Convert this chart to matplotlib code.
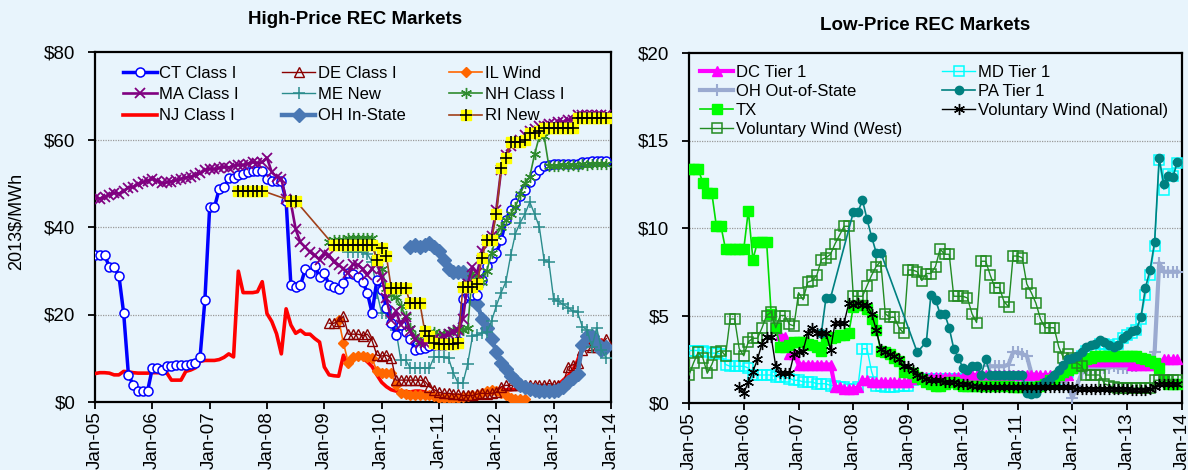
import numpy as np
import matplotlib
matplotlib.use("Agg")
import matplotlib.pyplot as plt
from matplotlib.legend_handler import HandlerTuple

plt.rcParams['font.family'] = ['Liberation Sans', 'DejaVu Sans']

# ---------------- data (monthly, month 0 = Jan-05) ----------------
tick_labels = ['Jan-05', 'Jan-06', 'Jan-07', 'Jan-08', 'Jan-09', 'Jan-10',
               'Jan-11', 'Jan-12', 'Jan-13', 'Jan-14']

# High-price markets
ct_class1_start = 0
ct_class1 = [33.6, 33.6, 33.6, 30.9, 30.9, 28.9, 20.3, 6.2, 3.9, 2.5, 2.5, 2.5,
             7.7, 7.7, 7.4, 8.3, 8.3, 8.5, 8.5, 8.5, 8.7, 9.0, 10.4, 23.3,
             44.5, 44.5, 48.7, 49.1, 51.1, 51.1, 52.0, 52.2, 52.5, 52.7, 52.7, 52.7,
             51.0, 50.5, 50.5, 50.5, 46.0, 26.7, 26.3, 26.7, 30.3, 29.4, 31.0, 28.6,
             29.5, 26.7, 26.2, 25.9, 27.1, 29.5, 29.2, 28.5, 27.5, 25.0, 20.3, 27.9,
             25.7, 21.5, 18.0, 15.4, 17.7, 16.0, 14.3, 12.0, 12.2, 12.4, 12.8, 13.0,
             13.0, 13.0, 13.2, 13.5, 14.0, 23.5, 24.5, 24.5, 24.5, 28.0, 31.0, 33.0,
             34.0, 37.0, 41.6, 44.0, 45.5, 47.0, 48.5, 50.3, 51.9, 53.0, 54.0, 54.2,
             54.3, 54.3, 54.5, 54.5, 54.5, 54.5, 54.8, 54.8, 55.0, 55.0, 55.2, 55.2]

ma_class1_start = 0
ma_class1 = [46.6, 46.5, 46.9, 47.3, 47.8, 47.6, 48.3, 49.0, 49.2, 49.8, 50.2, 50.6,
             51.0, 50.6, 50.0, 50.2, 50.4, 50.7, 51.0, 51.3, 51.5, 51.8, 52.3, 53.0,
             53.3, 53.2, 53.5, 53.7, 53.6, 54.0, 54.2, 54.1, 54.5, 54.8, 54.6, 54.8,
             55.8, 52.5, 51.5, 51.0, 46.3, 45.5, 39.5, 36.5, 35.4, 34.3, 33.5, 32.5,
             34.0, 33.5, 32.0, 31.3, 30.5, 29.5, 31.5, 31.3, 30.5, 29.0, 30.5, 31.7,
             28.5, 23.7, 18.8, 20.7, 17.6, 19.5, 16.2, 14.3, 13.5, 13.5, 14.0, 14.5,
             14.5, 15.0, 15.5, 16.0, 16.5, 19.0, 27.0, 30.9, 29.5, 34.5, 37.0, 38.0,
             44.0, 53.0, 56.5, 58.5, 59.5, 60.0, 61.0, 62.0, 62.5, 63.0, 63.0, 63.5,
             63.5, 64.0, 64.0, 64.5, 64.5, 65.5, 65.5, 65.5, 65.5, 65.5, 65.5, 65.5]

nj_class1_start = 0
nj_class1 = [6.5, 6.7, 6.7, 6.6, 6.2, 6.2, 7.0, 6.9, 6.7, 6.6, 6.6, 6.6,
             6.7, 6.7, 6.7, 6.7, 5.0, 5.0, 5.0, 7.0, 7.3, 7.8, 9.3, 9.5,
             9.5, 9.5, 9.7, 10.2, 11.0, 10.3, 29.9, 25.0, 25.0, 25.0, 25.2, 27.5,
             20.2, 18.4, 15.6, 11.0, 21.3, 17.6, 15.7, 16.4, 15.5, 15.5, 14.5, 13.7,
             8.0, 6.2, 6.0, 5.9, 10.7, 8.1, 10.4, 10.7, 10.1, 9.2, 8.1, 6.2,
             4.5, 3.5, 2.8, 2.5, 2.4, 2.4, 2.3, 2.5, 2.5, 2.3, 2.0, 1.7,
             1.4, 1.3, 1.2, 1.2, 1.3, 1.4, 1.5, 1.6, 1.7, 2.0, 2.3, 2.7,
             2.9, 3.0, 2.8, 2.8, 2.9, 3.0, 3.0, 3.1, 3.2, 3.2, 3.3, 3.3,
             3.5, 4.0, 5.0, 6.0, 7.3, 9.5, 12.6, 13.0, 13.5, 13.2, 14.2, 12.5]

de_class1_start = 49
de_class1 = [18.0, 18.0, 18.5, 19.6, 15.5, 15.5, 15.5, 15.2, 15.5, 14.0, 10.7,
             10.5, 10.7, 10.0, 5.0, 5.0, 5.0, 5.0, 5.0, 5.0, 4.8, 3.5, 2.8,
             2.2, 2.0, 2.0, 1.8, 1.8, 1.5, 1.5, 1.5, 1.8, 2.0, 1.9, 2.0,
             2.2, 3.5, 3.8, 3.8, 4.0, 4.0, 3.8, 4.0, 4.0, 4.0, 4.0, 4.2,
             4.0, 4.0, 4.2, 8.0, 8.5, 9.0, 12.0, 13.0, 12.5, 12.5, 13.0, 14.5]

il_wind_start = 51
il_wind = [18.8, 13.5, 9.0, 10.3, 10.5, 10.5, 10.2, 10.0, 7.0, 6.6,
           6.6, 6.6, 3.8, 2.0, 1.8, 1.6, 1.6, 1.5, 1.6, 1.6,
           1.3, 1.0, 1.0, 0.9, 0.9, 1.0, 1.1, 1.3, 1.5, 1.5,
           2.0, 2.5, 2.8, 2.6, 2.0, 1.5, 1.0, 0.8, 0.7, 0.6]

me_new_start = 53
me_new = [34.3, 34.3, 34.3, 34.3, 33.8, 32.0, 25.0,
          20.3, 20.3, 20.0, 16.4, 9.6, 9.6, 7.8, 7.8, 7.8, 7.8, 7.8, 10.3,
          10.3, 10.3, 10.0, 6.6, 4.3, 4.3, 8.7, 15.0, 15.3, 15.8, 16.0, 18.5,
          22.0, 25.0, 27.5, 33.5, 38.5, 41.0, 43.0, 45.7, 43.0, 40.0, 32.4, 32.0,
          23.5, 23.0, 22.3, 21.6, 20.8, 20.5, 17.2, 16.5, 12.5, 17.0, 12.0, 10.0]

nh_class1_start = 49
nh_class1 = [36.5, 37.0, 37.0, 37.0, 37.5, 37.5, 37.5, 37.5, 37.5, 37.5, 32.0,
             30.5, 26.0, 24.5, 24.0, 22.0, 19.6, 17.0, 15.0, 14.0, 15.5, 16.0, 16.0,
             15.5, 15.5, 16.0, 16.5, 16.5, 16.5, 17.0, 29.4, 28.5, 27.5, 30.0, 34.0,
             38.0, 40.0, 41.6, 43.0, 44.6, 47.5, 50.0, 51.5, 56.6, 60.7, 60.7, 53.9,
             54.0, 54.0, 54.2, 54.0, 54.2, 54.0, 54.3, 54.2, 54.3, 54.5, 54.3, 54.3]

oh_instate_start = 66
oh_instate = [35.5, 35.8, 35.5, 36.0, 36.4, 35.5,
              34.5, 32.5, 30.5, 29.7, 29.7, 29.7, 28.5, 23.5, 22.5, 19.0, 17.0, 14.5,
              11.5, 9.0, 7.5, 6.0, 5.0, 4.0, 3.5, 3.0, 2.7, 2.5, 2.5, 2.5,
              2.5, 2.8, 3.5, 4.5, 5.5, 6.5, 13.0, 15.0, 15.0, 13.5, 12.0, 12.5]

ri_new_start = 30
ri_new = [48.3, 48.3, 48.3, 48.3, 48.3, 48.3,
          None, None, None, None, None,
          46.0, 46.0,
          None, None, None, None, None, None, None,
          35.8, 35.8, 35.8, 35.8, 35.8, 35.8, 35.8, 35.8, 35.8,
          32.5, 35.2, 33.3, 26.0, 26.0, 26.0, 26.0, 22.6, 22.6, 22.6, 16.3, 15.0, 13.5,
          13.2, 13.2, 13.2, 13.2, 13.5, 26.3, 26.3, 26.3, 27.0, 33.0, 37.0, 37.0,
          43.0, 53.5, 55.7, 59.5, 59.5, 59.5, 60.0, 61.5, 61.5, 62.0, 62.6, 62.6,
          62.6, 62.6, 62.6, 62.6, 62.6, 65.0, 65.0, 65.0, 65.0, 65.0, 65.0, 65.0]

# Low-price markets
tx_start = 0
tx = [13.4, 13.4, 13.4, 12.6, 12.0, 12.0, 10.1, 10.1, 8.8, 8.8, 8.8, 8.8,
      8.8, 11.0, 8.2, 9.2, 9.2, 9.2, 5.1, 4.3, 3.2, 3.2, 3.3, 3.5,
      3.5, 3.5, 3.4, 3.3, 3.2, 3.0, 3.6, 3.7, 3.8, 3.9, 3.9, 4.0,
      5.5, 5.6, 5.6, 5.4, 4.8, 4.2, 3.0, 2.9, 2.8, 2.6, 2.4, 1.8,
      1.8, 1.7, 1.5, 1.4, 1.2, 1.1, 1.0, 1.0, 1.1, 1.2, 1.2, 1.1,
      1.0, 1.0, 1.0, 1.0, 1.0, 1.0, 1.0, 1.0, 1.0, 1.0, 1.0, 0.9,
      0.9, 0.9, 0.9, 0.9, 0.9, 1.0, 1.1, 1.3, 1.4, 1.6, 1.8, 1.9,
      2.0, 2.1, 2.3, 2.5, 2.6, 2.7, 2.7, 2.7, 2.7, 2.7, 2.7, 2.7,
      2.7, 2.7, 2.7, 2.6, 2.5, 2.4, 2.3, 2.0, 1.3, 1.1, 1.1, 1.1]

dc_tier1_start = 20
dc_tier1 = [3.9, 3.8, 2.8, 2.8,
            2.2, 2.2, 2.2, 2.2, 2.2, 2.2, 2.2, 2.2,
            0.9, 0.9, 0.8, 0.8, 0.8, 0.9,
            1.3, 1.3,
            1.2, 1.2, 1.2, 1.2, 1.2, 1.2, 1.2, 1.2, 1.2,
            1.4, 1.5, 1.5, 1.5, 1.5, 1.5, 1.5, 1.5, 1.5, 1.5, 1.5, 1.5,
            1.6, 1.6, 1.6, 1.6, 1.6, 1.6, 1.6, 1.6, 1.6, 1.6, 1.6, 1.6,
            1.6, 1.6, 1.6, 1.6, 1.6, 1.6, 1.6, 1.6, 1.6, 1.6, 1.6,
            2.0,
            2.4, 2.4, 2.4, 2.4, 2.4, 2.4, 2.4, 2.4, 2.4, 2.4, 2.4, 2.4,
            2.2, 2.2, 2.2, 2.2, 2.2, 2.2, 2.2,
            2.5, 2.5, 2.5, 2.5]

md_tier1_start = 0
md_tier1 = [3.0, 3.0, 3.0, 3.0, 2.9, 2.85, 2.85, 2.8, 2.2, 2.1, 2.1, 2.1,
            2.1, 2.0, 1.6, 1.6, 1.6, 1.6, 1.6, 1.5, 1.5, 1.5, 1.4, 1.3,
            1.3, 1.2, 1.2, 1.2, 1.1, 1.1, 1.1, 1.0, 1.0, 0.9, 0.9, 0.8,
            0.8, 0.9, 3.1, 3.1, 1.8, 1.0, 1.0, 0.9, 0.9, 0.9, 1.0, 1.0,
            1.0, 1.3, 1.4, 1.4, 1.4, 1.4, 1.4, 1.4, 1.4, 1.4, 1.4, 1.4,
            1.4, 1.4, 1.4, 1.4, 1.4, 1.4, 1.4, 1.4, 1.4, 1.4, 1.4, 1.4,
            1.4, 1.3, 1.2, 1.2, 1.2, 1.2, 1.2, 1.2, 1.2, 1.3, 1.5, 1.8,
            2.2, 2.4, 2.7, 3.0, 3.1, 3.2, 3.4, 3.4, 3.3, 3.2, 3.4, 3.7,
            3.9, 4.0, 4.2, 4.8, 6.2, 7.3, 9.0, 13.9, 12.2, 13.1, 13.0, 13.7]

pa_tier1_start = 29
pa_tier1 = [4.0,
            6.0, 6.0,
            None, None, None, None,
            10.9, 10.9, 11.6, 10.5, 9.5, 8.6, 8.6,
            None, None, None, None, None, None, None,
            2.9,
            None,
            3.5, 6.2, 5.9, 5.1, 5.1, 4.3, 3.1, 2.6, 2.0, 1.9, 2.1, 2.1,
            1.6, 2.5, 1.6, 1.6, 1.6, 1.6, 1.6, 1.6,
            1.6, 1.6, 0.6, 0.5, 0.6, 1.0, 1.2, 1.4, 1.6, 1.9, 2.2, 2.5,
            2.6, 2.7, 2.9, 3.2, 3.3, 3.4, 3.6, 3.5, 3.3, 3.2, 3.3, 3.7,
            3.9, 4.1, 4.2, 4.9, 6.6, 7.6, 9.2, 14.0, 12.5, 13.0, 12.9, 13.8]

oh_oos_start = 66
oh_oos = [2.1, 2.1, 2.1, 2.1, 2.2, 2.9,
          2.9, 2.8, 2.7, 1.7, 1.5, 1.4, 1.4, 1.3, 1.3, 1.3, 1.2, 1.0,
          0.3, 1.0, 1.7, 1.9, 2.0, 2.0, 2.0, 2.0, 2.0, 2.1, 2.0, 2.0,
          2.0, 2.1, 2.1, 2.2, 2.2, 2.3, 2.9, 8.0, 7.5, 7.5, 7.5, 7.5]

vw_national_start = 11
vw_national = [0.93, 0.57, 1.2, 1.8, 2.5, 3.4, 3.8, 3.8, 2.1, 1.7, 1.7, 1.7, 2.8,
               2.9, 3.0, 4.0, 4.3, 4.0, 4.0, 4.0, 3.05, 4.57, 4.6, 4.6, 5.7,
               5.6, 5.7, 5.6, 5.6, 5.1, 4.2, 3.1, 2.9, 2.8, 2.7, 2.5, 2.1,
               2.1, 1.9, 1.6, 1.5, 1.4, 1.3, 1.3, 1.3, 1.2, 1.2, 1.2, 1.1,
               1.1, 1.1, 1.0, 1.0, 0.9, 0.9, 0.9, 0.9, 0.9, 0.9, 0.9, 0.9,
               0.9, 0.9, 0.9, 0.9, 0.9, 0.9, 0.9, 0.9, 0.9, 0.9, 0.9, 0.9,
               0.9, 0.8, 0.8, 0.8, 0.8, 0.8, 0.8, 0.8, 0.8, 0.8, 0.8, 0.8,
               0.8, 0.75, 0.75, 0.75, 0.75, 0.8, 0.9, 1.1, 1.1, 1.1, 1.1, 1.1]

vw_west_start = 0
vw_west = [1.6, 2.3, 2.9, 2.6, 1.7, 2.2, 2.9, 3.0, 2.7, 4.8, 4.8, 3.1,
           2.7, 3.5, 3.7, 3.7, 4.3, 5.0, 5.2, 4.3, 5.0, 5.0, 4.5, 4.4,
           6.3, 5.9, 6.9, 7.0, 7.3, 8.2, 8.3, 8.5, 9.1, 9.6, 10.1, 10.1,
           6.1, 6.1, 6.1, 6.7, 7.3, 7.8, 8.1, 5.1, 4.9, 4.9, 4.3, 4.0,
           7.6, 7.6, 7.5, 7.0, 7.4, 7.4, 7.8, 8.8, 8.5, 8.5, 6.1, 6.1,
           6.1, 6.0, 5.1, 4.6, 8.1, 8.1, 7.3, 6.6, 6.6, 5.8, 5.5, 8.4,
           8.4, 8.3, 6.8, 6.3, 5.7, 4.8, 4.3, 4.3, 4.3, 3.2, 2.6, 2.8,
           2.6, 2.3, 2.1, 1.6, 1.6, 1.6, 1.6, 1.1, 1.0, 0.9, 0.85, 0.85,
           0.85, 0.85, 0.85, 0.85, 0.85, 0.85, 1.3, 1.3, 1.3, 1.3, 1.3, 1.3]


def xy(start, vals):
    x = np.arange(start, start + len(vals))
    y = np.array([np.nan if v is None else v for v in vals], dtype=float)
    m = ~np.isnan(y)
    return x[m], y[m]


# ---------------- figure ----------------
W, H = 1188, 470
bg = '#E8F4FC'
fig = plt.figure(figsize=(W / 100, H / 100), dpi=100)
fig.patch.set_facecolor(bg)

axL = fig.add_axes([95 / W, 1 - 402 / H, (611 - 95) / W, 350 / H])
axR = fig.add_axes([689 / W, 1 - 403 / H, (1182 - 689) / W, 350 / H])


def style(ax, ymax, ystep):
    ax.set_facecolor(bg)
    ax.set_xlim(0, 108)
    ax.set_ylim(0, ymax)
    ax.set_xticks(np.arange(0, 109, 12))
    ax.set_xticklabels(tick_labels, rotation=90, fontsize=13.5)
    yt = np.arange(0, ymax + 1, ystep)
    ax.set_yticks(yt)
    ax.set_yticklabels(['\\$%d' % v for v in yt], fontsize=13.5)
    for v in yt[1:-1]:
        ax.axhline(v, color='#9a9a9a', lw=0.9, ls=(0, (1, 1)), zorder=1)
    for s in ax.spines.values():
        s.set_linewidth(1.6)
        s.set_color('black')
    ax.tick_params(axis='y', direction='out', length=5, width=1.3, pad=9)
    ax.tick_params(axis='x', direction='out', length=5, width=1.3, pad=2)


style(axL, 80, 20)
style(axR, 20, 5)

# ---------------- left panel ----------------
x, y = xy(nj_class1_start, nj_class1)
h_nj, = axL.plot(x, y, color='#FF0000', lw=2.6, zorder=3)
x, y = xy(il_wind_start, il_wind)
h_il, = axL.plot(x, y, color='#FF6600', lw=1.2, marker='D', ms=5, mfc='#FF6600',
                 mec='#FF6600', zorder=4)
x, y = xy(de_class1_start, de_class1)
h_de, = axL.plot(x, y, color='#8B0000', lw=1.0, marker='^', ms=7, mfc='none',
                 mec='#8B0000', mew=1.0, zorder=4)
x, y = xy(oh_instate_start, oh_instate)
h_oh, = axL.plot(x, y, color='#4A78B4', lw=3.2, marker='D', ms=7, mfc='#4A78B4',
                 mec='#4A78B4', zorder=5)
x, y = xy(me_new_start, me_new)
h_me, = axL.plot(x, y, color='#2A8C8C', lw=1.0, marker='+', ms=9, mew=1.1, zorder=6)
x, y = xy(ct_class1_start, ct_class1)
h_ct, = axL.plot(x, y, color='#0000FF', lw=2.5, marker='o', ms=6.5, mfc='white',
                 mec='#0000FF', mew=1.1, zorder=7)
x, y = xy(nh_class1_start, nh_class1)
h_nh, = axL.plot(x, y, color='#2E8B2E', lw=1.2, marker=(6, 2, 0), ms=8, mew=1.0,
                 zorder=8)
x, y = xy(ma_class1_start, ma_class1)
h_ma, = axL.plot(x, y, color='#800080', lw=1.9, marker='x', ms=6.5, mew=1.3, zorder=9)
x, y = xy(ri_new_start, ri_new)
h_ri, = axL.plot(x, y, color='#A0401A', lw=1.2, marker='s', ms=7, mfc='#FFFF00',
                 mec='#FFFF00', zorder=10)
h_rip, = axL.plot(x, y, ls='none', marker='+', ms=8, mew=1.2, color='black', zorder=11)

axL.legend([h_ct, h_ma, h_nj, h_de, h_me, h_oh, h_il, h_nh, (h_ri, h_rip)],
           ['CT Class I', 'MA Class I', 'NJ Class I', 'DE Class I', 'ME New',
            'OH In-State', 'IL Wind', 'NH Class I', 'RI New'],
           ncol=3, loc='upper left', bbox_to_anchor=(0.045, 0.974), frameon=False,
           fontsize=12, handlelength=2.0, handletextpad=0.15, columnspacing=2.6,
           labelspacing=0.37, borderaxespad=0, borderpad=0.3,
           handler_map={tuple: HandlerTuple(ndivide=1)})

# ---------------- right panel ----------------
x, y = xy(md_tier1_start, md_tier1)
h_md, = axR.plot(x, y, color='#00FFFF', lw=1.0, marker='s', ms=6.5, mfc='none',
                 mec='#00FFFF', mew=1.1, zorder=3)
x, y = xy(oh_oos_start, oh_oos)
h_oos, = axR.plot(x, y, color='#9AAAD0', lw=3.0, marker='+', ms=8, mew=1.5, zorder=4)
x, y = xy(dc_tier1_start, dc_tier1)
h_dc, = axR.plot(x, y, color='#FF00FF', lw=3.0, marker='^', ms=6.5, mfc='#FF00FF',
                 mec='#FF00FF', zorder=5)
x, y = xy(tx_start, tx)
h_tx, = axR.plot(x, y, color='#00DD00', lw=1.2, marker='s', ms=7.5, mfc='#00FF00',
                 mec='#00FF00', zorder=6)
x, y = xy(vw_west_start, vw_west)
h_vww, = axR.plot(x, y, color='#228B22', lw=1.0, marker='s', ms=7.5, mfc='none',
                  mec='#228B22', mew=1.1, zorder=7)
x, y = xy(pa_tier1_start, pa_tier1)
h_pa, = axR.plot(x, y, color='#008080', lw=1.2, marker='o', ms=6, mfc='#008080',
                 mec='#008080', zorder=8)
x, y = xy(vw_national_start, vw_national)
h_vwn, = axR.plot(x, y, color='black', lw=1.0, marker=(6, 2, 0), ms=8, mew=1.0,
                  zorder=9)

axR.legend([h_dc, h_oos, h_tx, h_vww, h_md, h_pa, h_vwn],
           ['DC Tier 1', 'OH Out-of-State', 'TX', 'Voluntary Wind (West)',
            'MD Tier 1', 'PA Tier 1', 'Voluntary Wind (National)'],
           ncol=2, loc='upper left', bbox_to_anchor=(0.012, 0.981), frameon=False,
           fontsize=12, handlelength=2.0, handletextpad=0.15, columnspacing=2.4,
           labelspacing=0.24, borderaxespad=0, borderpad=0.3)

# ---------------- titles and axis label ----------------
fig.text(355 / W, 1 - 20 / H, 'High-Price REC Markets', ha='center', va='center',
         fontsize=13.5, fontweight='bold')
fig.text(925 / W, 1 - 25 / H, 'Low-Price REC Markets', ha='center', va='center',
         fontsize=13.5, fontweight='bold')
fig.text(16 / W, 1 - 221 / H, '2013\\$/MWh', ha='center', va='center',
         rotation=90, fontsize=13)

fig.savefig('out.png', dpi=100, facecolor=bg)
